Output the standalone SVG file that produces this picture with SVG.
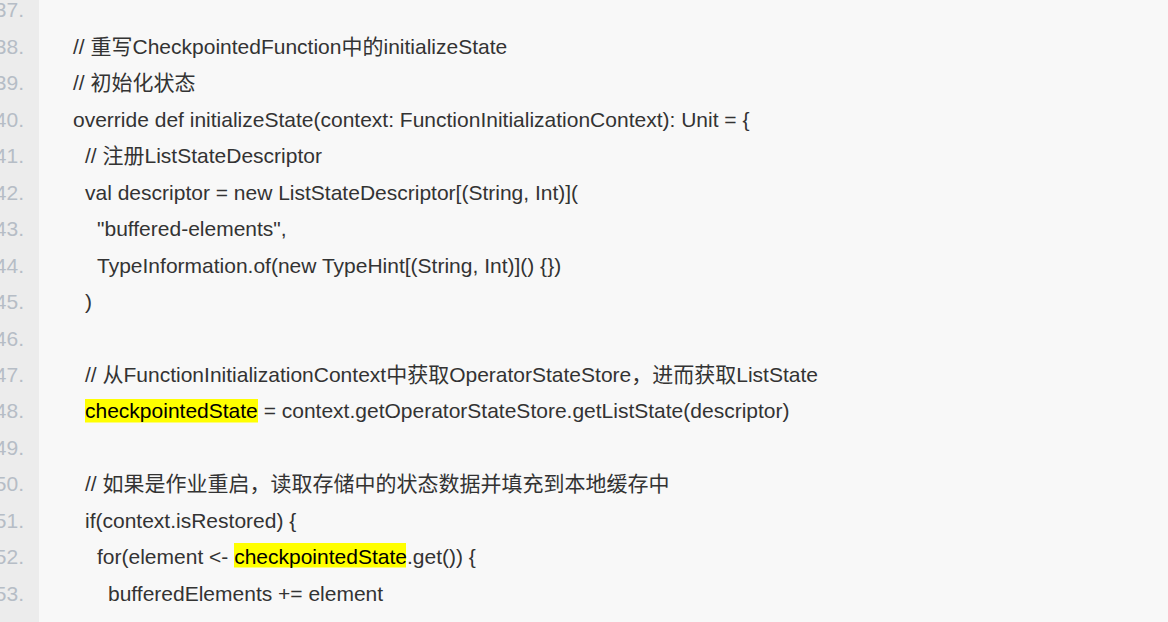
<svg xmlns="http://www.w3.org/2000/svg" width="1168" height="622" viewBox="0 0 1168 622">
<style>
.code{font-family:"Liberation Sans",Arial,"Noto Sans CJK SC",sans-serif;font-size:21px;fill:#333333;white-space:pre}
.num{font-family:"Liberation Sans",Arial,sans-serif;font-size:21px;fill:#b6bdc6;text-anchor:end}
.hl{fill:#ffff00}
.hlt{fill:#000000}
</style>
<rect x="0" y="0" width="1168" height="622" fill="#f8f8f8"/>
<rect x="0" y="0" width="39" height="622" fill="#ececec"/>
<g id="gutter">
<text class="num" x="24" y="17.4">37.</text>
<text class="num" x="24" y="53.9">38.</text>
<text class="num" x="24" y="90.3">39.</text>
<text class="num" x="24" y="126.8">40.</text>
<text class="num" x="24" y="163.2">41.</text>
<text class="num" x="24" y="199.7">42.</text>
<text class="num" x="24" y="236.1">43.</text>
<text class="num" x="24" y="272.6">44.</text>
<text class="num" x="24" y="309.0">45.</text>
<text class="num" x="24" y="345.5">46.</text>
<text class="num" x="24" y="381.9">47.</text>
<text class="num" x="24" y="418.4">48.</text>
<text class="num" x="24" y="454.8">49.</text>
<text class="num" x="24" y="491.3">50.</text>
<text class="num" x="24" y="527.7">51.</text>
<text class="num" x="24" y="564.2">52.</text>
<text class="num" x="24" y="600.6">53.</text>
</g>
<g id="highlights">
<rect class="hl" x="85" y="399" width="173" height="23.5"/>
<rect class="hl" x="234" y="543" width="172" height="24.5"/>
</g>
<g id="code">
<text class="code" x="73" y="53.9">// 重写CheckpointedFunction中的initializeState</text>
<text class="code" x="73" y="90.3">// 初始化状态</text>
<text class="code" x="73" y="126.8">override def initializeState(context: FunctionInitializationContext): Unit = {</text>
<text class="code" x="85" y="163.2">// 注册ListStateDescriptor</text>
<text class="code" x="85" y="199.7">val descriptor = new ListStateDescriptor[(String, Int)](</text>
<text class="code" x="97" y="236.1">"buffered-elements",</text>
<text class="code" x="97" y="272.6">TypeInformation.of(new TypeHint[(String, Int)]() {})</text>
<text class="code" x="85" y="309.0">)</text>
<text class="code" x="85" y="381.9">// 从FunctionInitializationContext中获取OperatorStateStore，进而获取ListState</text>
<text class="code" x="85" y="418.4"><tspan class="hlt">checkpointedState</tspan> = context.getOperatorStateStore.getListState(descriptor)</text>
<text class="code" x="85" y="491.3">// 如果是作业重启，读取存储中的状态数据并填充到本地缓存中</text>
<text class="code" x="85" y="527.7">if(context.isRestored) {</text>
<text class="code" x="97" y="564.2">for(element &lt;- <tspan class="hlt">checkpointedState</tspan>.get()) {</text>
<text class="code" x="108" y="600.6">bufferedElements += element</text>
</g>
</svg>
